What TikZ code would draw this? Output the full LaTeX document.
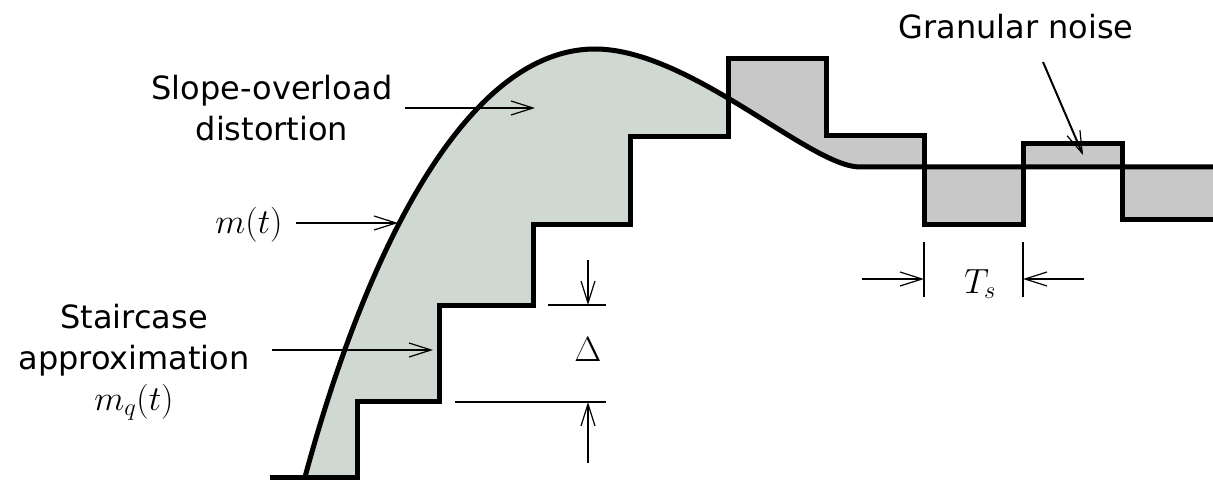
\RequirePackage{fix-cm}
\documentclass[tikz,border=0pt]{standalone}
\usepackage[no-math]{fontspec}
\setmainfont{DejaVu Sans}
\usepackage{tikz}
\usetikzlibrary{arrows.meta}
\definecolor{overloadgreen}{HTML}{D0D8D2}
\definecolor{noisegrey}{HTML}{C8C8C8}
\newcommand{\bigmath}{\fontsize{35}{41}\selectfont}

\begin{document}
\begin{tikzpicture}[x=1pt,y=-1pt,
  lbl/.style={font=\fontsize{32}{41}\selectfont,align=center,inner sep=0pt},
  mlbl/.style={lbl,font=\bigmath},
  heavy/.style={line width=5pt,line join=miter},
  arr/.style={-{Straight Barb[length=22pt,width=14pt,line width=1.2pt]},line width=2pt},
  dim/.style={line width=2pt}]

  \useasboundingbox (0,0) rectangle (1213,481);

  \path[save path=\errpath] (305,477) .. controls (365,255) and (465,49) .. (595,49)
    .. controls (690,49) and (810,167) .. (860,167) -- (1213,167)
    -- (1213,220) -- (1122,220) -- (1122,144) -- (1023,144) -- (1023,225)
    -- (924,225) -- (924,136) -- (826,136) -- (826,59) -- (728,59)
    -- (728,137) -- (630,137) -- (630,225) -- (533,225) -- (533,305)
    -- (439,305) -- (439,401) -- (357,401) -- (357,477) -- cycle;
  \fill[noisegrey,use path=\errpath];
  \begin{scope}
    \clip (0,0) rectangle (728,481);
    \fill[overloadgreen,use path=\errpath];
  \end{scope}

  \draw[heavy] (270,477) -| (357,401) -| (439,305) -| (533,225) -| (630,137)
    -| (728,59) -| (826,136) -| (924,225) -| (1023,144) -| (1122,220) -- (1213,220);
  \draw[heavy] (305,477) .. controls (365,255) and (465,49) .. (595,49)
    .. controls (690,49) and (810,167) .. (860,167) -- (1213,167);

  \node[lbl] (solbl) at (272,108) {Slope-overload\\distortion};
  \node[mlbl] (mlbl) at (249,225) {$m(t)$};
  \node[lbl] (stlbl) at (134,362) {Staircase\\approximation\\{\bigmath$m_q(t)$}};
  \node[lbl] (gnlbl) at (1016,27) {Granular noise};
  \node[mlbl] (dlbl) at (588,350) {$\Delta$};
  \node[mlbl] (tslbl) at (980,284) {$T_s$};

  \coordinate (sotip) at (535,108);
  \coordinate (mtip) at (398,223);
  \coordinate (sttip) at (433,350);
  \coordinate (gntail) at (1043,62);
  \coordinate (gntip) at (1083,155);
  \coordinate (dtop) at (588,305);
  \coordinate (dbot) at (588,402);
  \coordinate (tsl) at (924,279);
  \coordinate (tsr) at (1023,279);

  \draw[arr,shorten <=12pt] (solbl.east |- sotip) -- (sotip);
  \draw[arr,shorten <=13pt] (mlbl.east |- mtip) -- (mtip);
  \draw[arr,shorten <=22pt] (stlbl.east |- sttip) -- (sttip);
  \draw[arr] (gntail) -- (gntip);

  \draw[dim] (548,305) -- (606,305);
  \draw[dim] (455,402) -- (606,402);
  \draw[arr] (588,260) -- (dtop);
  \draw[arr] (588,463) -- (dbot);

  \draw[dim] (924,242) -- (924,297);
  \draw[dim] (1023,242) -- (1023,297);
  \draw[arr] (862,279) -- (tsl);
  \draw[arr] (1084,279) -- (tsr);
\end{tikzpicture}
\end{document}
